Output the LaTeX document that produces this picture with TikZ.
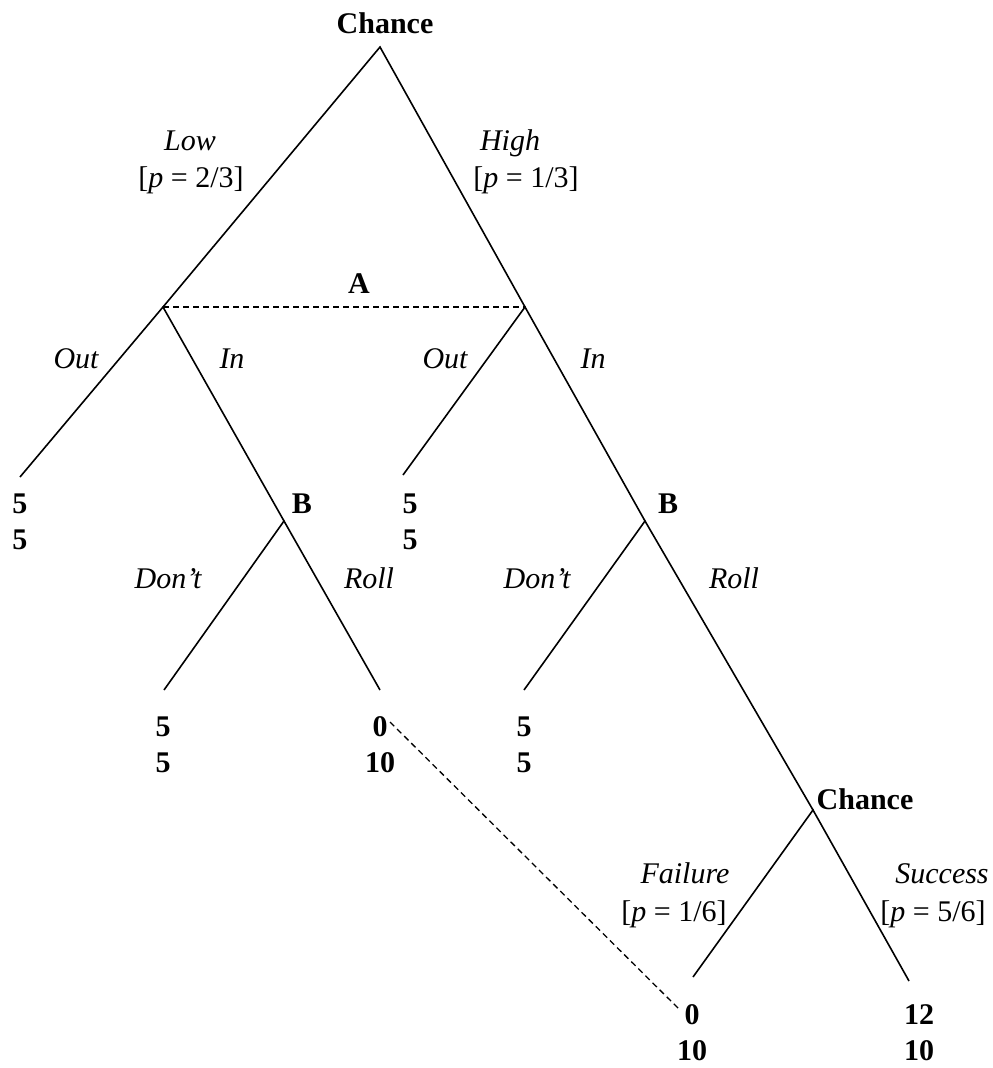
\documentclass[tikz,border=0pt]{standalone}
\usepackage{fontspec}
\setmainfont{Liberation Serif}
\begin{document}
\fontsize{30}{36}\selectfont
\begin{tikzpicture}[x=1pt,y=-1pt,line width=1.6pt,
				player/.style={font=\bfseries,anchor=base,inner sep=0pt},
				act/.style={font=\itshape,anchor=base,inner sep=0pt},
				prob/.style={anchor=base,inner sep=0pt},
				payoff/.style={font=\bfseries,align=center,anchor=base,inner sep=0pt},
				info/.style={line width=1.3pt,dash pattern=on 6pt off 4pt}]
\useasboundingbox (0,0) rectangle (993,1068);
% decision points
\coordinate (root) at (380,47);
\coordinate (la) at (163,307);
\coordinate (ra) at (525,307);
\coordinate (lo) at (20,477);
\coordinate (ro) at (403,475);
\coordinate (lb) at (284,521);
\coordinate (rb) at (645,521);
\coordinate (ld) at (164,690);
\coordinate (lr) at (380,690);
\coordinate (rd) at (524,690);
\coordinate (ch) at (813,810);
\coordinate (fl) at (693,977);
\coordinate (sc) at (909,981);
% branches
\draw (la) -- (root) -- (ra);
\draw (lo) -- (la) -- (lb);
\draw (ro) -- (ra) -- (rb);
\draw (ld) -- (lb) -- (lr);
\draw (rd) -- (rb) -- (ch);
\draw (fl) -- (ch) -- (sc);
% information sets
\draw[info] (la) -- (ra);
\coordinate (iB1) at (390,722);
\coordinate (iB2) at (680,1010);
\draw[info] (iB1) -- (iB2);
% players
\node[player] (n0) at (385,33) {Chance};
\node[player] (nA) at (359,293) {A};
\node[player] (nB1) at (302,513) {B};
\node[player] (nB2) at (668,513) {B};
\node[player] (nC) at (865,809) {Chance};
% moves
\node[act] (low) at (190,150) {Low};
\node[prob] (plow) at (191,187) {[\textit{p} = 2/3]};
\node[act] (high) at (510,150) {High};
\node[prob] (phigh) at (526,187) {[\textit{p} = 1/3]};
\node[act] (out1) at (76,368) {Out};
\node[act] (in1) at (232,368) {In};
\node[act] (out2) at (445,368) {Out};
\node[act] (in2) at (593,368) {In};
\node[act] (dont1) at (168,588) {Don’t};
\node[act] (roll1) at (369,588) {Roll};
\node[act] (dont2) at (537,588) {Don’t};
\node[act] (roll2) at (734,588) {Roll};
\node[act] (fail) at (685,883) {Failure};
\node[prob] (pfail) at (674,921) {[\textit{p} = 1/6]};
\node[act] (succ) at (942,883) {Success};
\node[prob] (psucc) at (933,921) {[\textit{p} = 5/6]};
% payoffs (base = last line)
\node[payoff] (u1) at (20,549) {5\\5};
\node[payoff] (u2) at (410,549) {5\\5};
\node[payoff] (u3) at (163,772) {5\\5};
\node[payoff] (u4) at (380,772) {0\\10};
\node[payoff] (u5) at (524,772) {5\\5};
\node[payoff] (u6) at (692,1060) {0\\10};
\node[payoff] (u7) at (919,1060) {12\\10};
\end{tikzpicture}
\end{document}
